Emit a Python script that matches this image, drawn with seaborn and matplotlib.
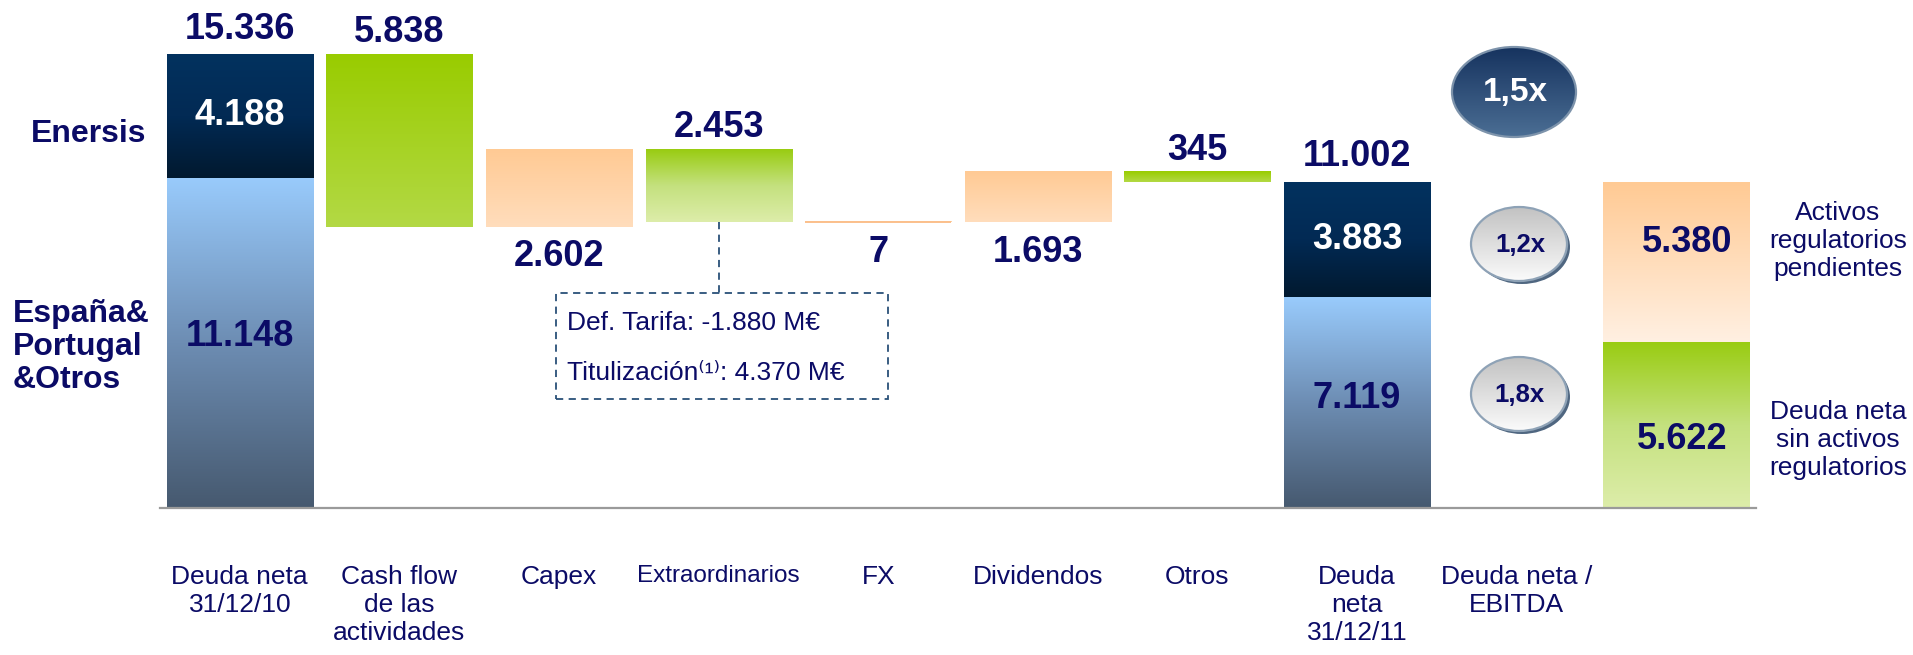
import numpy as np
import pandas as pd
import matplotlib
matplotlib.use("Agg")
import matplotlib.pyplot as plt
from matplotlib.colors import LinearSegmentedColormap
from matplotlib.patches import Ellipse, Rectangle
import seaborn as sns

# ---- Datos (M€) ----
categorias = ['Deuda neta 31/12/10', 'Cash flow de las actividades', 'Capex',
              'Extraordinarios', 'FX', 'Dividendos', 'Otros',
              'Deuda neta 31/12/11', 'Deuda neta / EBITDA', 'Desglose 31/12/11']
etiquetas_eje = ['Deuda neta\n31/12/10', 'Cash flow\nde las\nactividades', 'Capex',
                 'Extraordinarios', 'FX', 'Dividendos', 'Otros',
                 'Deuda\nneta\n31/12/11', 'Deuda neta /\nEBITDA', '']
deuda_total = [15336, 11002]
deuda_enersis = [4188, 3883]
deuda_espana = [11148, 7119]
mov_nombres = ['Cash flow de las actividades', 'Capex', 'Extraordinarios',
               'FX', 'Dividendos', 'Otros']
mov_valores = [-5838, 2602, -2453, 7, 1693, -345]
ratios = ['1,5x', '1,2x', '1,8x']
desglose = [5622, 5380]   # sin activos regulatorios / activos regulatorios pendientes
desglose_nombres = ['Deuda neta\nsin activos\nregulatorios',
                    'Activos\nregulatorios\npendientes']
def_tarifa = -1880
titulizacion = 4370

NAVY = '#0b0b66'
W, H = 1913, 655

sns.set_style('white')
plt.rcParams['font.family'] = ['Liberation Sans', 'DejaVu Sans']


def fmt(v):
    return f'{v:,}'.replace(',', '.')


# tablas para seaborn
df_inf = pd.DataFrame({'categoria': [categorias[0], categorias[7], categorias[9]],
                       'valor': [deuda_espana[0], deuda_espana[1], desglose[0]]})
df_inf['base'] = 0
df_sup = pd.DataFrame({'categoria': [categorias[0], categorias[7], categorias[9]],
                       'valor': [deuda_enersis[0], deuda_enersis[1], desglose[1]],
                       'base': [deuda_espana[0], deuda_espana[1], desglose[0]]})
nivel = deuda_total[0] + np.cumsum(mov_valores)
previo = np.r_[deuda_total[0], nivel[:-1]]
df_mov = pd.DataFrame({'categoria': mov_nombres,
                       'valor': np.abs(mov_valores),
                       'base': np.minimum(previo, nivel)})

fig = plt.figure(figsize=(W / 100, H / 100), dpi=100)
ax = fig.add_axes([160 / W, (H - 508) / H, 1596 / W, 508 / H])

grad = np.linspace(0, 1, 256).reshape(-1, 1)


def barras(df):
    n0 = len(ax.patches)
    sns.barplot(data=df, x='categoria', y='valor', order=categorias,
                bottom=df['base'].to_numpy(), width=0.915, errorbar=None,
                color='white', linewidth=0, ax=ax)
    return ax.patches[n0:]


def degradado(p, colores):
    x, y, w, h = p.get_x(), p.get_y(), p.get_width(), p.get_height()
    cmap = LinearSegmentedColormap.from_list('g', colores)
    ax.imshow(grad, cmap=cmap, vmin=0, vmax=1, extent=[x, x + w, y, y + h],
              origin='lower', aspect='auto', zorder=1.5, interpolation='bilinear')
    p.set_facecolor('none')


p_inf = barras(df_inf)
p_sup = barras(df_sup)
p_mov = barras(df_mov)

ax.set_autoscale_on(False)
ax.set_xlim(-0.5, 9.5)
ax.set_ylim(0, deuda_total[0] * 508 / 454)

azul_claro = ['#46596f', '#6d8db3', '#99cbfc']
azul_osc = ['#01192f', '#022a54', '#03325f']
verde = ['#b3d945', '#99cc00']
verde_claro = ['#ddedaa', '#c4e17e', '#99cc11']
naranja = ['#ffddbc', '#ffca94']
naranja_claro = ['#fff0e2', '#ffca94']

degradado(p_inf[0], azul_claro)
degradado(p_inf[1], azul_claro)
degradado(p_inf[2], verde_claro)
degradado(p_sup[0], azul_osc)
degradado(p_sup[1], azul_osc)
degradado(p_sup[2], naranja_claro)
for p, v, nom in zip(p_mov, mov_valores, mov_nombres):
    if v > 0:
        degradado(p, naranja)
    elif nom == 'Extraordinarios':
        degradado(p, verde_claro)
    else:
        degradado(p, verde)
    if abs(v) < 50:
        p.set_facecolor('#fbc08c')
        p.set_edgecolor('#fbc08c')
        p.set_linewidth(1.4)
        p.set_zorder(2)

# ---- etiquetas de valores ----
arriba = dict(textcoords='offset points', ha='center', va='baseline',
              fontsize=26, fontweight='bold', color=NAVY)
abajo = dict(textcoords='offset points', ha='center', va='top',
             fontsize=26, fontweight='bold', color=NAVY)
ax.annotate(fmt(deuda_total[0]), (0, deuda_total[0]), xytext=(0, 11), **arriba)
ax.annotate(fmt(deuda_total[1]), (7, deuda_total[1]), xytext=(0, 12), **arriba)
for i, (v, b) in enumerate(zip(mov_valores, df_mov['base'])):
    if v < 0:
        ax.annotate(fmt(abs(v)), (i + 1, b + abs(v)), xytext=(0, 9), **arriba)
    else:
        ax.annotate(fmt(v), (i + 1, b), xytext=(0, -9), **abajo)

dentro = dict(ha='center', va='center', fontsize=26, fontweight='bold')
ax.text(0, deuda_espana[0] + deuda_enersis[0] / 2, fmt(deuda_enersis[0]), color='white', **dentro)
ax.text(7, deuda_espana[1] + deuda_enersis[1] / 2, fmt(deuda_enersis[1]), color='white', **dentro)
ax.text(0, deuda_espana[0] * 0.52, fmt(deuda_espana[0]), color=NAVY, **dentro)
ax.text(7, deuda_espana[1] * 0.52, fmt(deuda_espana[1]), color=NAVY, **dentro)
ax.text(9.07, desglose[0] + desglose[1] * 0.62, fmt(desglose[1]), color=NAVY, **dentro)
ax.text(9.04, desglose[0] * 0.41, fmt(desglose[0]), color=NAVY, **dentro)

# ---- ejes ----
ax.set_xlabel('')
ax.set_ylabel('')
ax.set_yticks([])
for s in ['top', 'left', 'right']:
    ax.spines[s].set_visible(False)
ax.spines['bottom'].set_color('#9a9a9a')
ax.spines['bottom'].set_linewidth(1.6)
ax.set_xticks(range(len(categorias)))
ax.set_xticklabels(etiquetas_eje, fontsize=19, color=NAVY, linespacing=1.2)
ax.get_xticklabels()[3].set_fontsize(17.5)
ax.set_xticks(np.arange(-0.5, len(categorias), 1), minor=True)
ax.tick_params(axis='x', which='major', length=0, pad=41)
ax.tick_params(axis='x', which='minor', length=10, width=1.6, color='#9a9a9a')


def a_datos(px, py):
    return ax.transData.inverted().transform((px, H - py))


# ---- ratios deuda / EBITDA ----
def elipse(cx, cy, w, h, colores, borde, texto, color_txt, fs, sombra=None):
    x0, y0 = a_datos(cx - w / 2, cy + h / 2)
    x1, y1 = a_datos(cx + w / 2, cy - h / 2)
    if sombra:
        ax.add_patch(Ellipse(a_datos(cx + 3, cy + 3), x1 - x0, y1 - y0,
                             fc=sombra, ec='none', zorder=4, clip_on=False))
    e = Ellipse(a_datos(cx, cy), x1 - x0, y1 - y0, fc='none', ec=borde,
                lw=1.6, zorder=6, clip_on=False)
    ax.add_patch(e)
    cmap = LinearSegmentedColormap.from_list('e', colores)
    img = ax.imshow(grad, cmap=cmap, vmin=0, vmax=1, extent=[x0, x1, y0, y1],
                    origin='lower', aspect='auto', zorder=5, interpolation='bilinear')
    img.set_clip_path(e)
    ax.text(*a_datos(cx + 1, cy + 1), texto, ha='center', va='center',
            fontsize=fs, fontweight='bold', color=color_txt, zorder=7)


elipse(1514, 92, 124, 90, ['#4b6e94', '#16335f'], '#7d93ab', ratios[0], 'white', 24)
elipse(1519, 244, 96, 74, ['#fbfbfb', '#c2c2c2'], '#8ea2b6', ratios[1], NAVY, 18.5, '#4f6680')
elipse(1519, 394, 96, 74, ['#fbfbfb', '#c2c2c2'], '#8ea2b6', ratios[2], NAVY, 18.5, '#4f6680')

# ---- recuadro Extraordinarios ----
bx0, by0 = a_datos(556, 399)
bx1, by1 = a_datos(888, 293)
ax.add_patch(Rectangle((bx0, by0), bx1 - bx0, by1 - by0, fill=False, ec='#2a5078',
                       lw=1.3, ls=(0, (4, 3)), zorder=3))
ax.plot([3, 3], [df_mov['base'][2], by1], color='#2a5078', lw=1.3,
        ls=(0, (4, 3)), zorder=3)
ax.text(*a_datos(567, 323), f'Def. Tarifa: {fmt(def_tarifa)} M€', fontsize=19,
        color=NAVY, va='center', ha='left')
ax.text(*a_datos(567, 373), f'Titulización⁽¹⁾: {fmt(titulizacion)} M€', fontsize=19,
        color=NAVY, va='center', ha='left')

# ---- textos laterales ----
fig.text(146 / W, 1 - 134 / H, 'Enersis', ha='right', va='center',
         fontsize=23, fontweight='bold', color=NAVY)
fig.text(13 / W, 1 - 347 / H, 'España&\nPortugal\n&Otros', ha='left', va='center',
         fontsize=23, fontweight='bold', color=NAVY, linespacing=1.15)
fig.text(1838 / W, 1 - 241 / H, desglose_nombres[1], ha='center', va='center',
         fontsize=19, color=NAVY, linespacing=1.2)
fig.text(1838 / W, 1 - 440 / H, desglose_nombres[0], ha='center', va='center',
         fontsize=19, color=NAVY, linespacing=1.2)

fig.savefig('out.png', dpi=100)
